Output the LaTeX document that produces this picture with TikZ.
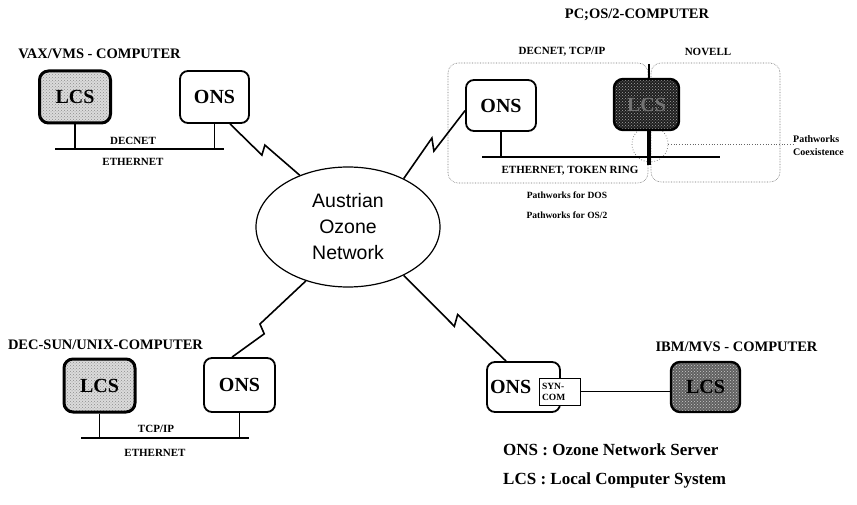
\documentclass[tikz,border=0pt]{standalone}
\usepackage{fontspec}
\setmainfont{Liberation Serif}
\newfontfamily\arialfont{Liberation Sans}
\usetikzlibrary{calc,patterns,shapes.geometric}
\begin{document}
\begin{tikzpicture}[x=1pt,y=-1pt,
  every node/.style={inner sep=0pt},
  title/.style={font=\fontsize{14.5}{16}\selectfont\bfseries},
  small/.style={font=\fontsize{11}{13}\selectfont\bfseries},
  tiny/.style={font=\fontsize{9.5}{13}\selectfont\bfseries},
  legend/.style={anchor=west, font=\fontsize{17}{19}\selectfont\bfseries},
  onsbox/.style={draw, line width=1.8pt, rounded corners=8pt, fill=white,
    font=\fontsize{20}{22}\selectfont\bfseries},
  lcsbox/.style={draw, line width=3pt, rounded corners=9pt,
    font=\fontsize{20}{22}\selectfont\bfseries,
    preaction={fill=black!14}, pattern=crosshatch dots, pattern color=black!45},
  lcsmid/.style={draw, line width=2.4pt, rounded corners=9pt,
    font=\fontsize{20}{22}\selectfont\bfseries,
    preaction={fill=black!62}, pattern=crosshatch dots, pattern color=black!20},
  lcsdark/.style={draw, line width=2.4pt, rounded corners=9pt, text=black!55,
    font=\fontsize{20}{22}\selectfont\bfseries,
    preaction={fill=black!88}, pattern=crosshatch dots, pattern color=black!35},
  bus/.style={line width=2.6pt},
  stem/.style={line width=1.2pt},
  bolt/.style 2 args={line width=1.6pt, line join=miter,
    to path={-- ($(\tikztostart)!0.5!(\tikztotarget)+(#1)$)
             -- ($(\tikztostart)!0.5!(\tikztotarget)+(#2)$) -- (\tikztotarget)}},
  region/.style={draw=black!55, densely dotted, line width=0.6pt, rounded corners=10pt},
  pointer/.style={draw=black!60, dotted, line width=0.7pt},
]
\useasboundingbox (0,0) rectangle (857,505);
\fill[white] (0,0) rectangle (857,505);

% ---------- central network ----------
\node[draw, ellipse, line width=1.2pt, minimum width=184pt, minimum height=120pt,
  align=center, font=\arialfont\fontsize{19.5}{26}\selectfont] (net) at (348,227)
  {Austrian\\Ozone\\Network};

% ---------- VAX/VMS ----------
\node[title] (tA) at (99.5,54) {VAX/VMS - COMPUTER};
\node[lcsbox, minimum width=71pt, minimum height=52pt] (lcsA) at (75,97) {LCS};
\node[onsbox, minimum width=69pt, minimum height=52pt] (onsA) at (214.5,97) {ONS};
\coordinate (ethA1) at (55,149);
\coordinate (ethA2) at (224,149);
\draw[bus] (ethA1) -- (ethA2);
\draw[stem] (lcsA.south) -- (lcsA.south |- ethA1);
\draw[stem] (onsA.south) -- (onsA.south |- ethA1);
\node[small] (decA) at (133,141) {DECNET};
\node[small] (ethlA) at (133,162) {ETHERNET};

% ---------- DEC-SUN/UNIX ----------
\node[title] (tC) at (105.5,345) {DEC-SUN/UNIX-COMPUTER};
\node[lcsbox, minimum width=71pt, minimum height=53pt] (lcsC) at (99.5,385.5) {LCS};
\node[onsbox, minimum width=71pt, minimum height=54pt] (onsC) at (239.5,385) {ONS};
\coordinate (ethC1) at (81,438);
\coordinate (ethC2) at (249,438);
\draw[bus] (ethC1) -- (ethC2);
\draw[stem] (lcsC.south) -- (lcsC.south |- ethC1);
\draw[stem] (onsC.south) -- (onsC.south |- ethC1);
\node[small] (tcpC) at (156,429) {TCP/IP};
\node[small] (ethlC) at (155,453) {ETHERNET};

% ---------- PC;OS/2 ----------
\node[title] (tB) at (637,15) {PC;OS/2-COMPUTER};
\node[small] (decB) at (562,52) {DECNET, TCP/IP};
\node[small] (novB) at (708,52) {NOVELL};
\draw[region] (448,63) rectangle (648,183);
\draw[region] (651,63) rectangle (780,182);
\node[pointer, circle, minimum size=36pt] (pw) at (650,144) {};
\node[onsbox, minimum width=70pt, minimum height=51pt] (onsB) at (501,105.5) {ONS};
\coordinate (pcTop) at (649,64);
\coordinate (pcBot) at (649,165);
\coordinate (ethB1) at (482,157);
\coordinate (ethB2) at (720,157);
\draw[bus] (ethB1) -- (ethB2);
\draw[stem] (onsB.south) -- (onsB.south |- ethB1);
\node[lcsdark, minimum width=65pt, minimum height=51pt] (lcsB) at (646.5,104.5) {LCS};
\draw[line width=1.2pt] (pcTop) -- (pcTop |- lcsB.north);
\draw[line width=3.4pt] (pcTop |- lcsB.south) -- (pcBot);
\node[anchor=west, align=left, font=\fontsize{10}{13}\selectfont\bfseries] (coex)
  at (793,145.5) {Pathworks\\Coexistence};
\draw[pointer] (pw.east) -- (pw.east -| coex.west);
\node[small] (ethlB) at (570,171) {ETHERNET, TOKEN RING};
\node[tiny] (pwdos) at (567,195) {Pathworks for DOS};
\node[tiny] (pwos2) at (567,215) {Pathworks for OS/2};

% ---------- IBM/MVS ----------
\node[title] (tD) at (736.5,347) {IBM/MVS - COMPUTER};
\node[onsbox, minimum width=73pt, minimum height=50pt, text width=67pt, inner xsep=3pt,
  align=left] (onsD) at (523.5,387) {ONS};
\node[draw, fill=white, line width=0.9pt, minimum width=41pt, minimum height=27pt,
  inner xsep=3pt, text width=35pt, align=left,
  font=\fontsize{9.5}{11}\selectfont\bfseries] (syn) at (559.5,391.5) {SYN-\\COM};
\node[lcsmid, minimum width=69pt, minimum height=50pt] (lcsD) at (705.5,387) {LCS};
\draw[stem] (syn.east) -- (syn.east -| lcsD.west);

% ---------- radio links ----------
\draw[bolt={-3,5.5}{0,-4.5}] (onsA.-60) to (net.133);
\draw[bolt={-2.5,-6.5}{-0.5,6.5}] (net.41) to (onsB.188);
\draw[bolt={-9,5}{-4.7,14.8}] (net.232) to (onsC.105);
\draw[bolt={-0.5,8}{2.8,-3.7}] (net.-41) to (onsD.124);

% ---------- legend ----------
\node[legend] (leg1) at (503,450) {ONS : Ozone Network Server};
\node[legend] (leg2) at (503,480) {LCS : Local Computer System};
\end{tikzpicture}
\end{document}
